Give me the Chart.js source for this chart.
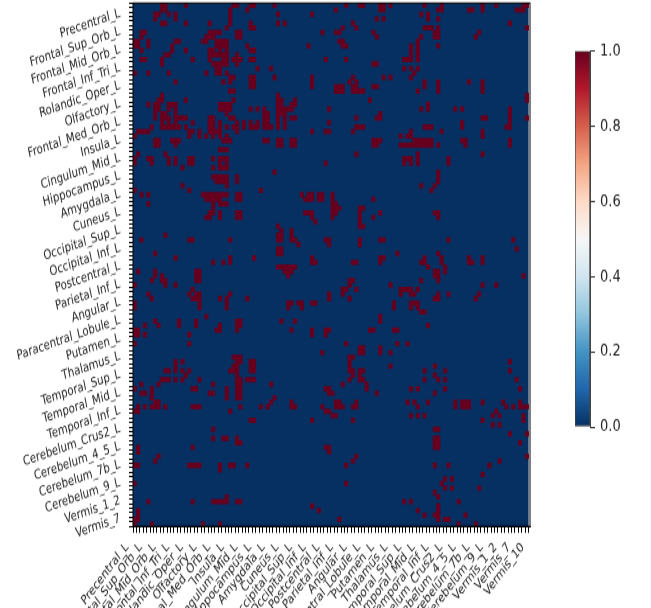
<!DOCTYPE html>
<html>
<head>
<meta charset="utf-8">
<style>
  html, body { margin: 0; padding: 0; background: #fff; overflow: hidden; }
  #wrap { position: relative; width: 651px; height: 608px; overflow: hidden; }
  /* the whole figure is stretched vertically in the reference */
  canvas { position: absolute; top: 0; height: 608px !important; }
  #matrix { left: 0; width: 651px !important; }
  #colorbar { left: 560px; width: 91px !important; }
</style>
</head>
<body>
<div id="wrap">
  <canvas id="matrix" width="651" height="460"></canvas>
  <canvas id="colorbar" width="91" height="460"></canvas>
</div>
<script src="https://cdn.jsdelivr.net/npm/chart.js@4/dist/chart.umd.js"></script>
<script>
// consts
const tickLabels = ['Precentral_L', 'Frontal_Sup_Orb_L', 'Frontal_Mid_Orb_L', 'Frontal_Inf_Tri_L', 'Rolandic_Oper_L',
  'Olfactory_L', 'Frontal_Med_Orb_L', 'Insula_L', 'Cingulum_Mid_L', 'Hippocampus_L', 'Amygdala_L', 'Cuneus_L',
  'Occipital_Sup_L', 'Occipital_Inf_L', 'Postcentral_L', 'Parietal_Inf_L', 'Angular_L', 'Paracentral_Lobule_L',
  'Putamen_L', 'Thalamus_L', 'Temporal_Sup_L', 'Temporal_Mid_L', 'Temporal_Inf_L', 'Cerebelum_Crus2_L',
  'Cerebelum_4_5_L', 'Cerebelum_7b_L', 'Cerebelum_9_L', 'Vermis_1_2', 'Vermis_7', 'Vermis_10'];
const colorbarTicks = [0, 0.2, 0.4, 0.6, 0.8, 1];
const colorbarStops = ['#053061', '#2166ac', '#4393c3', '#92c5de', '#d1e5f0', '#f7f7f7',
  '#fddbc7', '#f4a582', '#d6604d', '#b2182b', '#67001f'];
const lowColor = colorbarStops[0];
const highColor = colorbarStops[colorbarStops.length - 1];
const matrixSize = 116;

// columns with value 1, one string per row
const activeCols = [
  '8-9 15 29-30 34-35 41 62 66-67 72-73 75 85 90 102 106 114-115',
  '8-9 28 33 59 72-73 89-90 98-99 102 112-114',
  '6-7 10 12 28 42 52 84 86',
  '6 12 28 71 73 86 89',
  '8-9 15 22 28 34 42 44 64 110',
  '27 34-35 61 65 85-87 89 115',
  '2-3 22-25 30-31 55 59-60 70 88-89 101',
  '2 21-23 30-31 71 84 88-89 100',
  '0-1 4 12-13 20-21 24-27 60-61 83',
  '0-1 4 11 24-27 33 51 61-62 81 83 89',
  '2 11 15 22-23 25 27 34-35 81 83',
  '9-10 22-27 30 81 83',
  '2-3 8 17 22 26-27 29-31 34-35 56 62 79-81 83',
  '8 23-27 30 70-71',
  '24-25 36 40 79 81 83',
  '0 4 10 21 24-25 27 82',
  '28-29 34-35 41 52 64 73 75 81',
  '12 26 28 34-35 52 63 65 85 89 98 102',
  '34-35 52 59-61 64-65 70-71 85 89 102',
  '28-29 59-61 64-67 83 89 102',
  '8 42 115',
  '7-8 15 29 42-43 47 69 115',
  '4 6-7 10-12 25-28 42-43 46-47 86',
  '6-7 10 12 25-28 34 36 38 42-46 57 84 86 94 96 110',
  '6 8-9 12 27 38-39 42-44 72 110',
  '6 8-10 12-15 22-23 28-29 38-39 42 44 46-47 65 71-72 102-103 110 115',
  '8 10 12 17 22-23 25 30 32 34 36 38-39 42 44 57 96 110',
  '5 8-13 15 22-23 25 27 29-30 32 34-36 38-40 42 44 65-67 85-87 96 109-110',
  '1-4 16-17 19 22-25 30 52 56-57 64 81 90 102',
  '0 16 19 21 23 25 27 78 80-81 102',
  '6-7 11-13 26-28 38-39 42-43 46-47 70-72 82-87 96-97 110',
  '6-7 12 42-43 46-47 70-71 78-87 89 97 110',
  '25-27',
  '1 9 65 83 102',
  '0 4-5 10 12 16-17 23 25-27 79-81 83 92',
  '0 5 10 12 16-17 25 27 56 79 81 83 92',
  '14 23 25-27',
  '41 89',
  '23-27 30 89',
  '24-27 30 89',
  '14 27 84 88',
  '0 16 37 87',
  '2 4 20-27 30-31 49 51-52 54-55 58',
  '21-25 30-31 50-52 54-55 58 70',
  '4 23 25-27 58-59',
  '23 58-60 66-67',
  '22-23 25 30-31 50-52 58-59 66 72 88-89',
  '21-22 25 30-31 52 58 66 70 89',
  '53 66',
  '42 66-67',
  '43 46',
  '9 42-43 46',
  '2 16-17 28 42-43 46-47 56-57 66 72-73 92 111',
  '48 57 66',
  '42-43 112',
  '6 42-43 77 89',
  '12 28 35 52 72-73 85 90 98 102',
  '23 26 28 52-53 64-65 72 84-85 90 98-99 102',
  '42-47 86 91',
  '1 6 18-19 44-46 88-89 91',
  '6 8 18-19 45 88-89 114',
  '5 8-9 18-19 63-64 84 89',
  '0 9 12 63 75 102 106',
  '17 61-62 65 78-81 83',
  '4 16 18-19 28 57 61 78 81-82 89 92 101',
  '5 17-19 25 27 33 57 63 88-89 100',
  '0 19 27 45-46 48-49 52-53 76 81-83',
  '0 19 27 45 49 76 81 83',
  '84-85',
  '21 72',
  '6 13 18 30-31 43 47 72',
  '3 7 13 18 25 30-31 86',
  '0-1 24-25 30 46 52 56-57 69-70 76-77',
  '0-1 3 16 52 56',
  '',
  '0 16 62 77 80',
  '66-67 72',
  '55 66-67 72 75',
  '29-31 63-64',
  '12 14 30-31 34-35 63 110',
  '12 29-30 34-35 63 75 88',
  '9-10 12 14 16 28-30 34-35 63-64 66-67 85 91 110',
  '15 30 64 66 88',
  '8-10 12 14 19 30-31 33-35 63 66-67 85 89 91 112',
  '2 7 23 30-31 40 61 68',
  '0 5 17-18 27 30-31 56-57 68 81 83 91 113',
  '2-3 5 22-23 27 30-31 57-58 71 88',
  '5 27 30-31 41',
  '6-7 40 46 59-60 65 80 82 86 94 96-98 102 108 113',
  '1 3 5-7 9 17-19 31 37 39 46-47 55 59-61 64-65 83 94 96-98 109 111 113-115',
  '0-1 28 56-57 106',
  '58-59 81 83 85 105 107 114',
  '34-35 52 64 102 114',
  '105 107',
  '23 88-89',
  '110 115',
  '23 26-27 30 88-89',
  '30-31 88-89 113',
  '1 17 56-57 88-89',
  '1 57',
  '7 65 115',
  '6 64 107',
  '0-1 16-19 25 28-29 33 62 88 92 104',
  '25',
  '102',
  '91 93',
  '0 62 90',
  '91 93 101',
  '88',
  '27 89',
  '4 17 23-27 30-31 79 81 95',
  '52 89',
  '1 54 83 89',
  '1 85 88-89 97',
  '0-1 60 89 91-92',
  '0 5 20 25 95 100',
];

// one floating bar per run of active cells
const cellBars = [];
activeCols.forEach((cols, row) => {
  cols.split(' ').filter(Boolean).forEach(run => {
    const parts = run.split('-').map(Number);
    cellBars.push({ y: row + 0.5, x: [parts[0], parts[parts.length - 1] + 1] });
  });
});

const tickFont = { family: '"DejaVu Sans"', size: 10.1 };
const tickColor = '#222';

// dark blue cells (value 0) under the bars, and the axes frame over them
const matrixPlugin = {
  id: 'matrixFrame',
  beforeDatasetsDraw(chart) {
    const { ctx, scales } = chart;
    ctx.save();
    ctx.fillStyle = lowColor;
    const x0 = scales.x.getPixelForValue(0);
    const y0 = scales.y.getPixelForValue(0);
    ctx.fillRect(x0, y0, scales.x.getPixelForValue(matrixSize) - x0, scales.y.getPixelForValue(matrixSize) - y0);
    ctx.restore();
  },
  afterDraw(chart) {
    const { ctx, chartArea } = chart;
    ctx.save();
    ctx.strokeStyle = '#000';
    ctx.lineWidth = 1;
    ctx.strokeRect(chartArea.left, chartArea.top, chartArea.width, chartArea.height);
    ctx.restore();
  },
};

new Chart(document.getElementById('matrix'), {
  type: 'bar',
  plugins: [matrixPlugin],
  data: {
    datasets: [{
      data: cellBars,
      backgroundColor: highColor,
      borderWidth: 0,
      barPercentage: 1,
      categoryPercentage: 1,
    }],
  },
  options: {
    indexAxis: 'y',
    responsive: false,
    animation: false,
    layout: { padding: { top: 2.3, right: 121, left: 0, bottom: 0 } },
    plugins: { legend: { display: false }, tooltip: { enabled: false } },
    scales: {
      x: {
        type: 'linear',
        position: 'bottom',
        min: 0,
        max: 116.4,
        offset: false,
        grid: { offset: false, drawOnChartArea: false, color: '#000', tickColor: '#000', tickLength: 5, tickWidth: 1 },
        border: { color: '#000' },
        ticks: {
          stepSize: 1,
          autoSkip: false,
          includeBounds: false,
          minRotation: 45,
          maxRotation: 45,
          padding: 5,
          labelOffset: -6,
          font: tickFont,
          color: tickColor,
          callback: v => (v % 4 === 0 ? tickLabels[v / 4] : ''),
        },
        afterFit(scale) {
          scale.height = 61.8;
          scale.paddingLeft = 0;
          scale.paddingRight = 0;
        },
      },
      y: {
        type: 'linear',
        position: 'left',
        reverse: true,
        min: 0,
        max: matrixSize,
        offset: false,
        grid: { offset: false, drawOnChartArea: false, color: '#000', tickColor: '#000', tickLength: 4, tickWidth: 1 },
        border: { color: '#000' },
        ticks: {
          stepSize: 1,
          autoSkip: false,
          minRotation: 15,
          padding: 9,
          labelOffset: -6,
          font: tickFont,
          color: tickColor,
          callback: v => (v % 4 === 0 && v > 0 ? tickLabels[v / 4 - 1] : ''),
        },
        afterFit(scale) {
          scale.width = 133;
          scale.paddingTop = 0;
          scale.paddingBottom = 0;
        },
      },
    },
  },
});

// colorbar
new Chart(document.getElementById('colorbar'), {
  type: 'bar',
  data: {
    labels: [''],
    datasets: [{
      data: [[0, 1]],
      barPercentage: 1,
      categoryPercentage: 1,
      borderWidth: 1,
      borderColor: '#444',
      borderSkipped: false,
      backgroundColor(context) {
        const area = context.chart.chartArea;
        if (!area) return lowColor;
        const gradient = context.chart.ctx.createLinearGradient(0, area.bottom, 0, area.top);
        colorbarStops.forEach((color, i) => gradient.addColorStop(i / (colorbarStops.length - 1), color));
        return gradient;
      },
    }],
  },
  options: {
    responsive: false,
    animation: false,
    layout: { padding: { left: 15, top: 38.6, bottom: 137, right: 0 } },
    plugins: { legend: { display: false }, tooltip: { enabled: false } },
    scales: {
      x: { display: false },
      y: {
        position: 'right',
        min: 0,
        max: 1,
        grid: { drawOnChartArea: false, tickColor: '#333', tickLength: 5, tickWidth: 1 },
        border: { color: '#444' },
        afterBuildTicks(scale) {
          scale.ticks = colorbarTicks.map(value => ({ value }));
        },
        ticks: {
          padding: 5,
          font: { family: '"DejaVu Sans"', size: 13 },
          color: tickColor,
          callback: v => v.toFixed(1),
        },
        afterFit(scale) {
          scale.width = 61;
          scale.paddingTop = 0;
          scale.paddingBottom = 0;
        },
      },
    },
  },
});
</script>
</body>
</html>
